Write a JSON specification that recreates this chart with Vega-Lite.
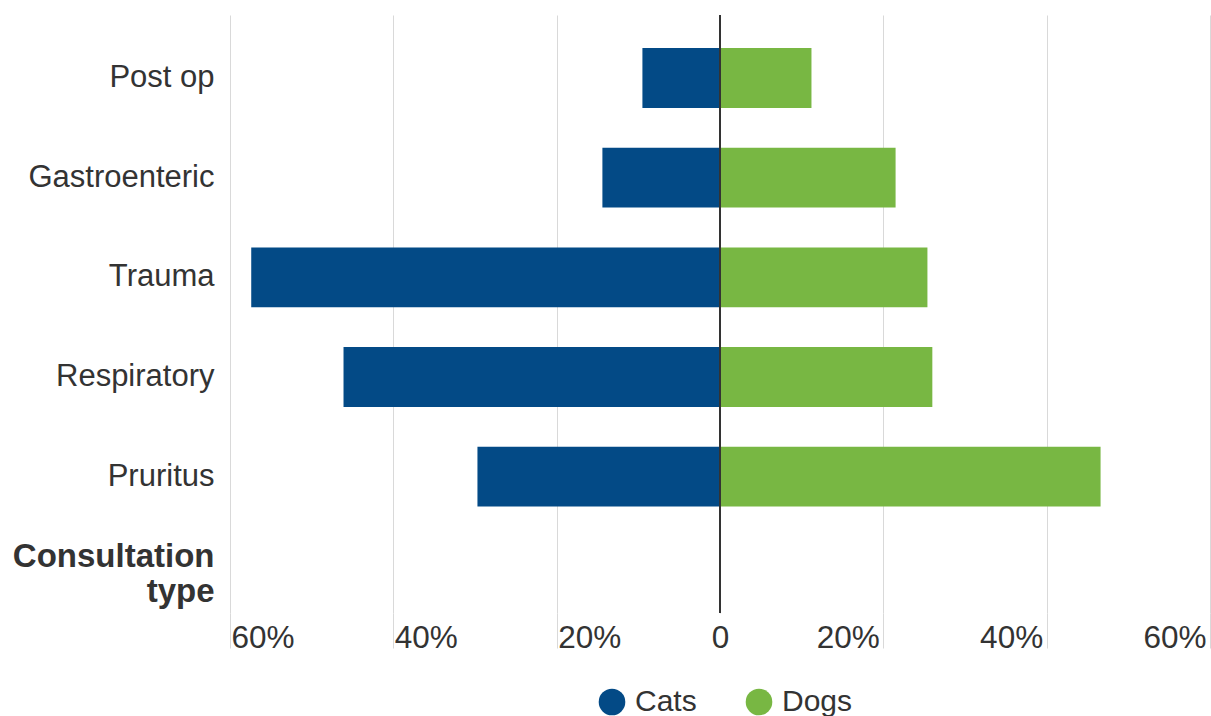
{
  "$schema": "https://vega.github.io/schema/vega-lite/v6.json",
  "width": 980,
  "height": 598,
  "autosize": {"type": "none"},
  "padding": {"left": 230, "top": 15, "right": 1, "bottom": 103},
  "background": "white",
  "config": {
    "view": {"stroke": null},
    "font": "Liberation Sans",
    "axis": {"labelFont": "Liberation Sans", "labelColor": "#333333"},
    "legend": {"labelFont": "Liberation Sans"}
  },
  "layer": [
    {
      "data": {
        "values": [
          {"type": "Post op", "species": "Cats", "pct": -9.5},
          {"type": "Post op", "species": "Dogs", "pct": 11.2},
          {"type": "Gastroenteric", "species": "Cats", "pct": -14.4},
          {"type": "Gastroenteric", "species": "Dogs", "pct": 21.5},
          {"type": "Trauma", "species": "Cats", "pct": -57.4},
          {"type": "Trauma", "species": "Dogs", "pct": 25.4},
          {"type": "Respiratory", "species": "Cats", "pct": -46.1},
          {"type": "Respiratory", "species": "Dogs", "pct": 26.0},
          {"type": "Pruritus", "species": "Cats", "pct": -29.7},
          {"type": "Pruritus", "species": "Dogs", "pct": 46.6}
        ]
      },
      "mark": {"type": "bar"},
      "encoding": {
        "y": {
          "field": "type",
          "type": "nominal",
          "scale": {
            "domain": ["Post op", "Gastroenteric", "Trauma", "Respiratory", "Pruritus", "Consultation type"],
            "paddingInner": 0.4,
            "paddingOuter": 0.2,
            "align": 0.83
          },
          "axis": {
            "title": null,
            "domain": false,
            "ticks": false,
            "grid": false,
            "labelPadding": 16,
            "labelFontSize": {"expr": "datum.value == 'Consultation type' ? 33 : 31"},
            "labelFontWeight": {"expr": "datum.value == 'Consultation type' ? 'bold' : 'normal'"},
            "labelOffset": {"expr": "datum.value == 'Consultation type' ? -19 : 0"},
            "labelExpr": "datum.value == 'Consultation type' ? ['Consultation', 'type'] : datum.value",
            "labelLineHeight": 35,
            "labelLimit": 300
          }
        },
        "x": {
          "field": "pct",
          "type": "quantitative",
          "stack": null,
          "scale": {"domain": [-60, 60], "nice": false},
          "axis": {
            "title": null,
            "values": [-60, -40, -20, 0, 20, 40, 60],
            "labelExpr": "datum.value == 0 ? '0' : abs(datum.value) + '%'",
            "grid": true,
            "gridColor": "#d9d9d9",
            "gridWidth": 1,
            "domain": false,
            "ticks": true,
            "tickSize": 35,
            "tickWidth": 1,
            "tickColor": {"expr": "datum.value == 0 ? 'transparent' : '#d9d9d9'"},
            "labelFontSize": 31.5,
            "labelBaseline": "alphabetic",
            "labelPadding": -1,
            "labelFlush": false,
            "labelOverlap": false,
            "labelAlign": {"expr": "datum.value < 0 ? 'left' : (datum.value > 0 ? 'right' : 'center')"},
            "labelOffset": {"expr": "datum.value < 0 ? 1 : (datum.value > 0 ? -4 : 0)"}
          }
        },
        "color": {
          "field": "species",
          "type": "nominal",
          "scale": {"domain": ["Cats", "Dogs"], "range": ["#034a86", "#78b743"]},
          "legend": {
            "title": null,
            "orient": "none",
            "legendX": 367,
            "legendY": 672,
            "direction": "horizontal",
            "symbolType": "circle",
            "symbolSize": 707,
            "symbolStrokeWidth": 0,
            "symbolOpacity": 1,
            "labelFontSize": 30,
            "labelColor": "#333333",
            "labelOffset": 8,
            "columnPadding": 47
          }
        }
      }
    },
    {
      "data": {"values": [{"zero": 0}]},
      "mark": {"type": "rule", "color": "#333333", "strokeWidth": 2},
      "encoding": {
        "x": {"field": "zero", "type": "quantitative"}
      }
    }
  ]
}
